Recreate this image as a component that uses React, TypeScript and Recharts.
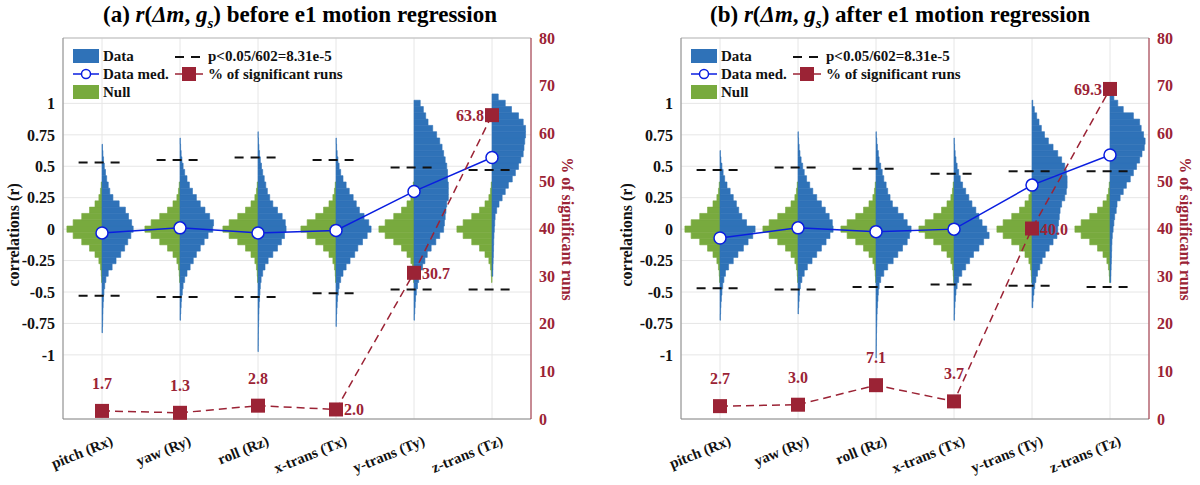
import React from "react";
import { ComposedChart, Line, XAxis, YAxis, CartesianGrid, ReferenceArea, ReferenceLine, LabelList } from "recharts";

const categories = ["pitch (Rx)", "yaw (Ry)", "roll (Rz)", "x-trans (Tx)", "y-trans (Ty)", "z-trans (Tz)"];
const leftTicks = [-1, -0.75, -0.5, -0.25, 0, 0.25, 0.5, 0.75, 1];
const rightTicks = [0, 10, 20, 30, 40, 50, 60, 70, 80];

const medianA = [-0.03, 0.01, -0.03, -0.01, 0.3, 0.57];
const medianB = [-0.07, 0.01, -0.02, 0.0, 0.35, 0.59];
const pctA = [1.7, 1.3, 2.8, 2.0, 30.7, 63.8];
const pctB = [2.7, 3.0, 7.1, 3.7, 40.0, 69.3];
const threshPosA = [0.53, 0.55, 0.57, 0.55, 0.49, 0.47];
const threshNegA = [-0.53, -0.54, -0.54, -0.51, -0.48, -0.48];
const threshPosB = [0.47, 0.49, 0.48, 0.44, 0.46, 0.46];
const threshNegB = [-0.47, -0.48, -0.46, -0.44, -0.45, -0.46];

// histogram half-widths (category units), bins of 0.05 starting at lo
const nullLo = -0.4;
const nullW = [0.005, 0.01, 0.02, 0.04, 0.09, 0.16, 0.26, 0.37, 0.45, 0.37, 0.26, 0.16, 0.09, 0.04, 0.02, 0.01];

const dataLoA = [-0.8, -0.7, -0.95, -0.75, -0.7, -0.35];
const dataWA = [
  [0.005,0.008,0.01,0.012,0.015,0.02,0.025,0.035,0.05,0.08,0.13,0.18,0.24,0.29,0.33,0.37,0.40,0.38,0.34,0.30,0.22,0.14,0.10,0.08,0.06,0.045,0.03,0.02,0.012,0.006],
  [0.006,0.01,0.015,0.02,0.03,0.04,0.06,0.09,0.13,0.17,0.21,0.26,0.31,0.36,0.42,0.43,0.38,0.32,0.26,0.21,0.16,0.12,0.09,0.06,0.04,0.025,0.015,0.008,0.004],
  [0.003,0.004,0.005,0.006,0.008,0.01,0.012,0.015,0.02,0.025,0.03,0.04,0.06,0.09,0.13,0.19,0.25,0.30,0.34,0.36,0.35,0.31,0.25,0.19,0.15,0.12,0.10,0.08,0.06,0.045,0.03,0.02,0.012,0.007,0.003],
  [0.004,0.006,0.01,0.015,0.02,0.03,0.04,0.06,0.09,0.13,0.18,0.24,0.28,0.34,0.40,0.45,0.42,0.36,0.30,0.26,0.22,0.17,0.13,0.09,0.06,0.04,0.025,0.015,0.008,0.004],
  [0.005,0.01,0.015,0.02,0.03,0.045,0.06,0.08,0.11,0.14,0.17,0.22,0.28,0.33,0.38,0.39,0.40,0.41,0.42,0.44,0.44,0.44,0.43,0.43,0.42,0.40,0.38,0.36,0.33,0.29,0.24,0.18,0.15,0.12,0.08],
  [0.01,0.012,0.015,0.018,0.02,0.022,0.025,0.03,0.035,0.04,0.06,0.09,0.13,0.17,0.21,0.26,0.30,0.34,0.37,0.40,0.41,0.42,0.43,0.43,0.40,0.34,0.25,0.17,0.08],
];
const dataLoB = [-0.7, -0.65, -1.0, -0.7, -0.6, -0.4];
const dataWB = [
  [0.005,0.008,0.012,0.018,0.025,0.035,0.05,0.07,0.11,0.17,0.23,0.30,0.36,0.42,0.45,0.34,0.28,0.24,0.21,0.17,0.13,0.09,0.06,0.04,0.025,0.012,0.005],
  [0.005,0.01,0.015,0.02,0.03,0.05,0.08,0.12,0.18,0.24,0.30,0.36,0.41,0.45,0.44,0.40,0.35,0.30,0.24,0.19,0.15,0.11,0.08,0.06,0.04,0.025,0.015,0.008,0.004],
  [0.003,0.004,0.005,0.006,0.008,0.01,0.012,0.015,0.02,0.025,0.03,0.04,0.06,0.10,0.15,0.22,0.28,0.34,0.40,0.43,0.45,0.40,0.35,0.28,0.21,0.18,0.15,0.13,0.10,0.08,0.06,0.04,0.03,0.018,0.01,0.004],
  [0.005,0.008,0.012,0.018,0.025,0.04,0.06,0.10,0.15,0.20,0.25,0.32,0.38,0.45,0.42,0.36,0.32,0.28,0.23,0.19,0.15,0.11,0.08,0.06,0.04,0.025,0.015,0.008,0.004],
  [0.01,0.015,0.025,0.035,0.05,0.07,0.10,0.13,0.17,0.22,0.27,0.32,0.33,0.34,0.35,0.36,0.38,0.42,0.44,0.45,0.45,0.44,0.42,0.38,0.33,0.27,0.21,0.16,0.12,0.09,0.06,0.03,0.01],
  [0.01,0.012,0.015,0.018,0.02,0.022,0.025,0.03,0.04,0.05,0.06,0.08,0.09,0.13,0.17,0.21,0.26,0.30,0.34,0.38,0.41,0.44,0.45,0.43,0.40,0.38,0.30,0.17,0.10,0.05],
];
const labelPosA = ["top", "top", "top", "right", "right", "left"];
const labelPosB = ["top", "top", "top", "top", "right", "left"];

const BLUE = "#2f72b8";
const GREEN = "#78aa3e";
const RED = "#9b2335";
const FONT = "'Liberation Serif', 'Times New Roman', serif";
const BIN = 0.05;

function violinAreas(i: number, lo: number, w: number[], side: number, color: string, key: string) {
  return w.map((v, k) => {
    const c = lo + k * BIN;
    return (
      <ReferenceArea key={`${key}-${k}`} yAxisId="l" x1={side < 0 ? i - v : i} x2={side < 0 ? i : i + v}
        y1={c - BIN / 2} y2={c + BIN / 2} fill={color} fillOpacity={1} stroke={color} strokeWidth={0.6} ifOverflow="visible" />
    );
  });
}

const XTick = (props: any) => {
  const { x, y, payload } = props;
  return (
    <text x={x + 8} y={y + 8} transform={`rotate(-22 ${x + 8} ${y + 8})`} textAnchor="end" fontFamily={FONT}
      fontWeight="bold" fontSize={15} fill="#111" dominantBaseline="hanging">{categories[payload.value]}</text>
  );
};

function Panel(props: any) {
  const { title, median, pct, tp, tn, lo, ws, pos, ml, lw, mr } = props;
  const data = categories.map((_, i) => ({ x: i, med: median[i], pct: pct[i] }));
  const labelContent = (lp: any) => {
    const { x, y, value, index } = lp;
    const p = pos[index];
    let tx = x, ty = y, anchor = "middle";
    if (p === "top") { ty = y - 22; }
    else if (p === "right") { tx = x + 8; ty = y + 6; anchor = "start"; }
    else { tx = x - 8; ty = y + 6; anchor = "end"; }
    return <text x={tx} y={ty} textAnchor={anchor} fill={RED} fontFamily={FONT} fontWeight="bold" fontSize={16}>{Number(value).toFixed(1)}</text>;
  };
  const rx = 600 - mr - 45 + 35;
  return (
    <div style={{ position: "relative", width: 600, height: 485 }}>
      <div style={{ position: "absolute", top: 2, left: 0, width: 600, textAlign: "center", fontFamily: FONT, fontWeight: "bold", fontSize: 23 }}>
        {title[0]} <i>r</i>(<i>Δm</i>, <i>g<sub style={{ fontSize: 15 }}>s</sub></i>) {title[1]}
      </div>
      <ComposedChart width={600} height={485} data={data} margin={{ top: 38, right: mr, bottom: 16, left: ml }}>
        <CartesianGrid stroke="#e6e6e6" yAxisId="l" />
        <XAxis type="number" dataKey="x" domain={[-0.5, 5.5]} ticks={[0, 1, 2, 3, 4, 5]} tick={<XTick />}
          height={50} stroke="#888" tickLine={false} interval={0} />
        <YAxis yAxisId="l" domain={[-1.51, 1.52]} ticks={leftTicks} width={lw} stroke="#888" tickLine={false}
          tick={{ fontFamily: FONT, fontWeight: "bold", fontSize: 16, fill: "#111" }}
          tickFormatter={(v: number) => String(v)} allowDataOverflow
          label={{ value: "correlations (r)", angle: -90, position: "insideLeft", offset: 0, dy: 58, style: { fontFamily: FONT, fontWeight: "bold", fontSize: 16, fill: "#111" } }} />
        <YAxis yAxisId="r" orientation="right" domain={[0, 80]} ticks={rightTicks} width={45} stroke={RED} tickLine={false}
          tick={{ fontFamily: FONT, fontWeight: "bold", fontSize: 16, fill: RED }} />
        <ReferenceLine yAxisId="l" y={1.52} stroke="#bbb" ifOverflow="visible" />
        {categories.map((_, i) => violinAreas(i, nullLo, nullW, -1, GREEN, `n${i}`))}
        {categories.map((_, i) => violinAreas(i, lo[i], ws[i], 1, BLUE, `d${i}`))}
        {categories.map((_, i) => (
          <ReferenceLine key={`tp${i}`} yAxisId="l" segment={[{ x: i - 0.3, y: tp[i] }, { x: i + 0.3, y: tp[i] }]} stroke="#111" strokeWidth={2} strokeDasharray="9 7" />
        ))}
        {categories.map((_, i) => (
          <ReferenceLine key={`tn${i}`} yAxisId="l" segment={[{ x: i - 0.3, y: tn[i] }, { x: i + 0.3, y: tn[i] }]} stroke="#111" strokeWidth={2} strokeDasharray="9 7" />
        ))}
        <Line yAxisId="l" dataKey="med" stroke="#0a1ee0" strokeWidth={1.5} isAnimationActive={false}
          dot={{ r: 6, fill: "#fff", stroke: "#0a1ee0", strokeWidth: 1.5 }} />
        <Line yAxisId="r" dataKey="pct" stroke={RED} strokeWidth={1.5} strokeDasharray="8 5" isAnimationActive={false}
          dot={(d: any) => <rect key={`s${d.index}`} x={d.cx - 7} y={d.cy - 7} width={14} height={14} fill={RED} />}>
          <LabelList dataKey="pct" content={labelContent} />
        </Line>
      </ComposedChart>
      <svg style={{ position: "absolute", left: 0, top: 0 }} width={600} height={485} pointerEvents="none">
        <text x={rx} y={229} transform={`rotate(90 ${rx} 229)`} textAnchor="middle" dominantBaseline="middle"
          fontFamily={FONT} fontWeight="bold" fontSize={16} fill={RED}>% of significant runs</text>
        <g fontFamily={FONT} fontWeight="bold" fontSize={15} fill="#111">
          <rect x={ml + lw + 10} y={49} width={26} height={14} fill={BLUE} />
          <text x={ml + lw + 40} y={61}>Data</text>
          <line x1={ml + lw + 10} x2={ml + lw + 36} y1={74} y2={74} stroke="#0a1ee0" strokeWidth={1.5} />
          <circle cx={ml + lw + 23} cy={74} r={4.5} fill="#fff" stroke="#0a1ee0" strokeWidth={1.5} />
          <text x={ml + lw + 40} y={79}>Data med.</text>
          <rect x={ml + lw + 10} y={85} width={26} height={14} fill={GREEN} />
          <text x={ml + lw + 40} y={97}>Null</text>
          <line x1={ml + lw + 112} x2={ml + lw + 140} y1={57} y2={57} stroke="#111" strokeWidth={2} strokeDasharray="9 7" />
          <text x={ml + lw + 145} y={61}>p&lt;0.05/602=8.31e-5</text>
          <line x1={ml + lw + 112} x2={ml + lw + 140} y1={74} y2={74} stroke={RED} strokeWidth={1.5} />
          <rect x={ml + lw + 119} y={67} width={14} height={14} fill={RED} />
          <text x={ml + lw + 145} y={79}>% of significant runs</text>
        </g>
      </svg>
    </div>
  );
}

export default function App() {
  return (
    <div style={{ position: "absolute", left: 0, top: 0, width: 1200, height: 485, display: "flex", background: "#fff" }}>
      <Panel title={["(a)", "before e1 motion regression"]} median={medianA} pct={pctA} tp={threshPosA} tn={threshNegA}
        lo={dataLoA} ws={dataWA} pos={labelPosA} ml={13} lw={50} mr={24} />
      <Panel title={["(b)", "after e1 motion regression"]} median={medianB} pct={pctB} tp={threshPosB} tn={threshNegB}
        lo={dataLoB} ws={dataWB} pos={labelPosB} ml={26} lw={55} mr={6} />
    </div>
  );
}
